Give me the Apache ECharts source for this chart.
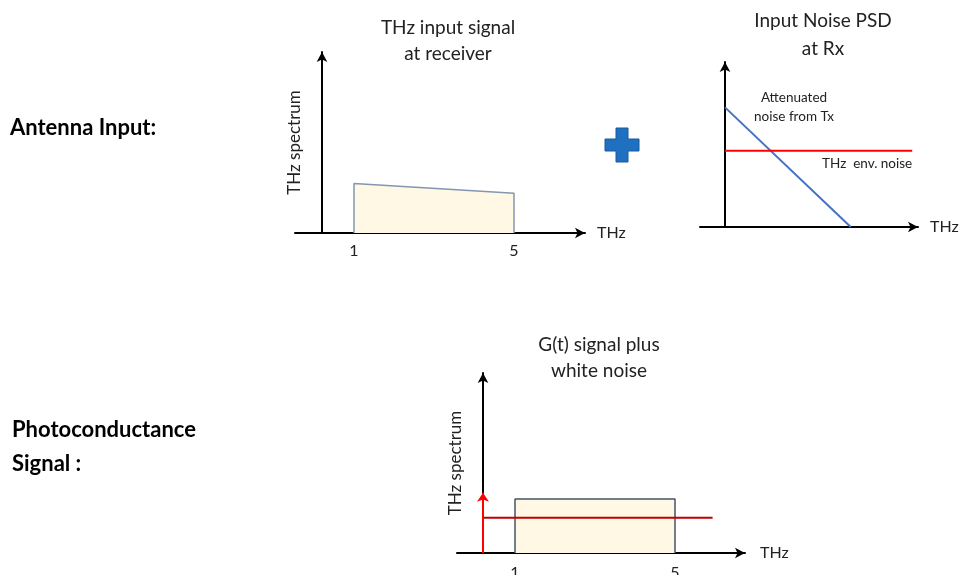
<!DOCTYPE html>
<html>
<head>
<meta charset="utf-8">
<script src="https://cdn.jsdelivr.net/npm/echarts@6/dist/echarts.min.js"></script>
<style>
html,body{margin:0;padding:0;background:#fff}
#main{width:961px;height:575px}
</style>
</head>
<body>
<div id="main"></div>
<script>
// chart 1: THz input signal at receiver
var inputSignalX = [1, 1, 5, 5];
var inputSignalY = [0, 0.273, 0.219, 0];
var inputTickLabels = [1, 5];

// chart 2: input noise PSD at Rx
var txNoiseX = [0, 5.03];
var txNoiseY = [0.725, 0];
var envNoiseX = [0, 7.49];
var envNoiseY = [0.462, 0.462];

// chart 3: G(t) signal plus white noise
var gSignalX = [1, 1, 5, 5];
var gSignalY = [0, 0.30, 0.30, 0];
var whiteNoiseX = [0.2, 5.94];
var whiteNoiseY = [0.196, 0.196];
var dcSpikeX = 0.2;
var dcSpikeY = 0.335;
var gTickLabels = [1, 5];

function pairs(xs, ys) {
    return xs.map(function (x, i) { return [x, ys[i]]; });
}

var FONT = 'Lato';
var TXT = '#222';

function xAx(idx, min, max, labels, nameGap, margin) {
    return {
        type: 'value', gridIndex: idx, min: min, max: max,
        name: 'THz', nameLocation: 'end', nameGap: nameGap,
        nameTextStyle: { fontFamily: FONT, fontSize: 16, color: TXT },
        axisLine: { onZero: false, symbol: ['none', 'arrow'], symbolSize: [8, 10], lineStyle: { color: '#000', width: 2 } },
        axisTick: { show: false },
        splitLine: { show: false },
        axisLabel: labels ? { customValues: labels, margin: margin, fontFamily: FONT, fontSize: 16, color: TXT } : { show: false }
    };
}
function yAx(idx, offset, name) {
    return {
        type: 'value', gridIndex: idx, min: 0, max: 1, offset: offset,
        name: name, nameLocation: 'middle', nameRotate: 90, nameGap: 19,
        nameTextStyle: { fontFamily: FONT, fontSize: 17, color: TXT },
        axisLine: { onZero: false, symbol: ['none', 'arrow'], symbolSize: [8, 10], lineStyle: { color: '#000', width: 2 } },
        axisTick: { show: false },
        splitLine: { show: false },
        axisLabel: { show: false }
    };
}

var chart = echarts.init(document.getElementById('main'));
var option = {
    animation: false,
    backgroundColor: '#fff',
    grid: [
        { left: 295, top: 52, width: 290, height: 181, outerBoundsMode: 'none' },
        { left: 700, top: 62, width: 218, height: 165, outerBoundsMode: 'none' },
        { left: 457, top: 373, width: 288, height: 180, outerBoundsMode: 'none' }
    ],
    xAxis: [
        xAx(0, -0.475, 6.775, inputTickLabels, 12, 10),
        xAx(1, -1, 7.72, null, 12, 10),
        xAx(2, -0.45, 6.75, gTickLabels, 15, 12)
    ],
    yAxis: [
        yAx(0, -27, 'THz spectrum'),
        yAx(1, -25, ''),
        yAx(2, -26, 'THz spectrum')
    ],
    series: [
        {
            type: 'line', xAxisIndex: 0, yAxisIndex: 0, symbol: 'none',
            data: pairs(inputSignalX, inputSignalY),
            lineStyle: { color: '#8496B0', width: 1.5 },
            areaStyle: { color: '#FFF8E5', opacity: 1 }
        },
        {
            type: 'line', xAxisIndex: 1, yAxisIndex: 1, symbol: 'none',
            data: pairs(txNoiseX, txNoiseY),
            lineStyle: { color: '#4472C4', width: 2 }
        },
        {
            type: 'line', xAxisIndex: 1, yAxisIndex: 1, symbol: 'none',
            data: pairs(envNoiseX, envNoiseY),
            lineStyle: { color: '#FF0000', width: 2 }
        },
        {
            type: 'line', xAxisIndex: 2, yAxisIndex: 2, symbol: 'none',
            data: pairs(gSignalX, gSignalY),
            lineStyle: { color: '#44546A', width: 1.5 },
            areaStyle: { color: '#FFF8E5', opacity: 1 }
        },
        {
            type: 'line', xAxisIndex: 2, yAxisIndex: 2, symbol: 'none',
            data: pairs(whiteNoiseX, whiteNoiseY),
            lineStyle: { color: '#C00000', width: 2 },
            markLine: {
                silent: true,
                symbol: ['none', 'arrow'],
                symbolSize: 9,
                label: { show: false },
                lineStyle: { color: '#FF0000', width: 2, type: 'solid' },
                data: [[{ coord: [dcSpikeX, 0] }, { coord: [dcSpikeX, dcSpikeY] }]]
            }
        }
    ],
    graphic: [
        { type: 'text', x: 10, y: 128, style: { text: 'Antenna Input:', font: 'bold 22px ' + FONT, fill: '#000', verticalAlign: 'middle' } },
        { type: 'text', x: 12, y: 447, style: { text: 'Photoconductance\nSignal :', font: 'bold 22px ' + FONT, lineHeight: 34, fill: '#000', verticalAlign: 'middle' } },
        { type: 'text', x: 448, y: 41, style: { text: 'THz input signal\nat receiver', font: '19px ' + FONT, lineHeight: 26, fill: TXT, align: 'center', verticalAlign: 'middle' } },
        { type: 'text', x: 823, y: 35, style: { text: 'Input Noise PSD\nat Rx', font: '19px ' + FONT, lineHeight: 28, fill: TXT, align: 'center', verticalAlign: 'middle' } },
        { type: 'text', x: 599, y: 358, style: { text: 'G(t) signal plus\nwhite noise', font: '19px ' + FONT, lineHeight: 26, fill: TXT, align: 'center', verticalAlign: 'middle' } },
        { type: 'text', x: 794, y: 107, style: { text: 'Attenuated\nnoise from Tx', font: '13.5px ' + FONT, lineHeight: 19, fill: TXT, align: 'center', verticalAlign: 'middle' } },
        { type: 'text', x: 822, y: 164, style: { text: 'THz  env. noise', font: '13.5px ' + FONT, fill: TXT, align: 'left', verticalAlign: 'middle' } },
        {
            type: 'polygon',
            shape: { points: [[616,128],[628,128],[628,139],[639,139],[639,151],[628,151],[628,162],[616,162],[616,151],[605,151],[605,139],[616,139]] },
            style: { fill: '#1F70C1', stroke: '#175A9C', lineWidth: 1 }
        }
    ]
};
chart.setOption(option);
</script>
</body>
</html>
